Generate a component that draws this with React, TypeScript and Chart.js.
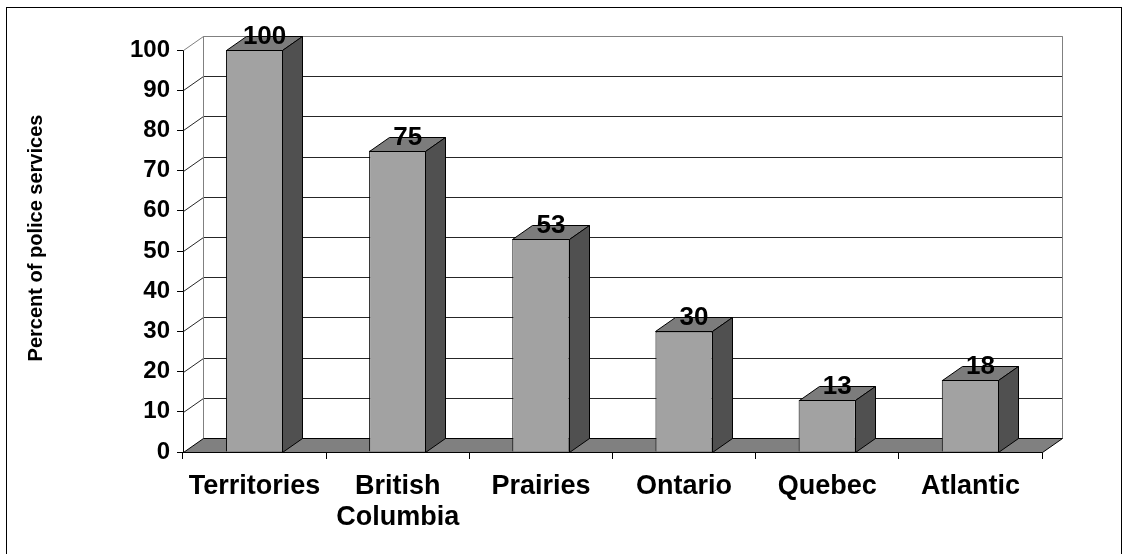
import React, { useEffect, useRef } from "react";
import { Chart, registerables } from "chart.js";

Chart.register(...registerables);

const categories: (string | string[])[] = [
  "Territories",
  ["British", "Columbia"],
  "Prairies",
  "Ontario",
  "Quebec",
  "Atlantic",
];
const percentValues: number[] = [100, 75, 53, 30, 13, 18];
const yTicks: number[] = [0, 10, 20, 30, 40, 50, 60, 70, 80, 90, 100];
const yTitle = "Percent of police services";

const FONT = "'Liberation Sans', Arial, Helvetica, sans-serif";
const DX = 20;
const DY = 14;

const threeD = {
  id: "threeD",
  beforeDraw(chart: any) {
    const ctx = chart.ctx;
    ctx.save();
    ctx.fillStyle = "#ffffff";
    ctx.fillRect(0, 0, chart.width, chart.height);
    ctx.strokeStyle = "#000000";
    ctx.lineWidth = 1;
    ctx.strokeRect(6.5, 7.5, 1115, 560);
    ctx.restore();
  },
  beforeDatasetsDraw(chart: any) {
    const ctx = chart.ctx;
    const { left, right } = chart.chartArea;
    const y = chart.scales.y;
    const L = Math.round(left) + 0.5;
    const R = Math.round(right) + 0.5;
    ctx.save();
    ctx.lineWidth = 1;
    yTicks.forEach((v) => {
      if (v === 0) return;
      const py = Math.round(y.getPixelForValue(v)) + 0.5;
      const col = v === yTicks[yTicks.length - 1] ? "#808080" : "#262626";
      ctx.strokeStyle = col;
      ctx.beginPath();
      ctx.moveTo(L, py);
      ctx.lineTo(L + DX, py - DY);
      ctx.lineTo(R + DX, py - DY);
      ctx.stroke();
    });
    const pTop = Math.round(y.getPixelForValue(100)) + 0.5;
    const pBot = Math.round(y.getPixelForValue(0)) + 0.5;
    ctx.strokeStyle = "#808080";
    ctx.beginPath();
    ctx.moveTo(L + DX, pBot - DY);
    ctx.lineTo(L + DX, pTop - DY);
    ctx.lineTo(R + DX, pTop - DY);
    ctx.lineTo(R + DX, pBot - DY);
    ctx.stroke();
    ctx.fillStyle = "#808080";
    ctx.strokeStyle = "#000000";
    ctx.beginPath();
    ctx.moveTo(L, pBot);
    ctx.lineTo(R, pBot);
    ctx.lineTo(R + DX, pBot - DY);
    ctx.lineTo(L + DX, pBot - DY);
    ctx.closePath();
    ctx.fill();
    ctx.stroke();
    ctx.restore();
  },
  afterDatasetsDraw(chart: any) {
    const ctx = chart.ctx;
    const meta = chart.getDatasetMeta(0);
    ctx.save();
    ctx.lineWidth = 1;
    ctx.strokeStyle = "#000000";
    meta.data.forEach((bar: any, i: number) => {
      const { x, y, base, width } = bar.getProps(["x", "y", "base", "width"], true);
      const x0 = Math.round(x - width / 2) + 0.5;
      const x1 = Math.round(x + width / 2) - 0.5;
      const yt = Math.round(y) + 0.5;
      const yb = Math.round(base) + 0.5;
      ctx.fillStyle = "#7c7c7c";
      ctx.beginPath();
      ctx.moveTo(x0, yt);
      ctx.lineTo(x1, yt);
      ctx.lineTo(x1 + DX, yt - DY);
      ctx.lineTo(x0 + DX, yt - DY);
      ctx.closePath();
      ctx.fill();
      ctx.stroke();
      ctx.fillStyle = "#505050";
      ctx.beginPath();
      ctx.moveTo(x1, yt);
      ctx.lineTo(x1 + DX, yt - DY);
      ctx.lineTo(x1 + DX, yb - DY);
      ctx.lineTo(x1, yb);
      ctx.closePath();
      ctx.fill();
      ctx.stroke();
      ctx.fillStyle = "#000000";
      ctx.font = `bold 26px ${FONT}`;
      ctx.textAlign = "center";
      ctx.textBaseline = "alphabetic";
      ctx.fillText(String(percentValues[i]), x + DX / 2, y - 6);
    });
    ctx.restore();
  },
  afterDraw(chart: any) {
    const ctx = chart.ctx;
    ctx.save();
    ctx.translate(36, 238);
    ctx.rotate(-Math.PI / 2);
    ctx.font = `bold 20px ${FONT}`;
    ctx.fillStyle = "#000000";
    ctx.textAlign = "center";
    ctx.textBaseline = "middle";
    ctx.fillText(yTitle, 0, 0);
    ctx.restore();
  },
};

export default function App() {
  const ref = useRef<HTMLCanvasElement | null>(null);
  useEffect(() => {
    document.body.style.margin = "0";
    const canvas = ref.current;
    if (!canvas) return;
    const chart = new Chart(canvas, {
      type: "bar",
      data: {
        labels: categories as any,
        datasets: [
          {
            data: percentValues,
            backgroundColor: "#a2a2a2",
            borderColor: "#000000",
            borderWidth: 1,
            categoryPercentage: 1,
            barPercentage: 0.4,
          },
        ],
      },
      options: {
        animation: false,
        responsive: false,
        devicePixelRatio: 1,
        layout: { padding: { left: 0, right: 81, top: 50, bottom: 0 } },
        plugins: {
          legend: { display: false },
          tooltip: { enabled: false },
        },
        scales: {
          x: {
            afterFit: (s: any) => {
              s.height = 102;
            },
            grid: {
              drawOnChartArea: false,
              drawTicks: true,
              tickLength: 7,
              color: "#000000",
              offset: true,
            },
            border: { display: true, color: "#000000" },
            ticks: {
              autoSkip: false,
              maxRotation: 0,
              minRotation: 0,
              padding: 12,
              color: "#000000",
              font: { family: FONT, size: 27, weight: "bold", lineHeight: 1.15 },
            },
          },
          y: {
            min: 0,
            max: 100,
            afterFit: (s: any) => {
              s.width = 183;
            },
            afterBuildTicks: (s: any) => {
              s.ticks = yTicks.map((v) => ({ value: v }));
            },
            grid: {
              drawOnChartArea: false,
              drawTicks: true,
              tickLength: 6,
              color: "#000000",
            },
            border: { display: true, color: "#000000" },
            ticks: {
              padding: 7,
              color: "#000000",
              font: { family: FONT, size: 24, weight: "bold" },
            },
          },
        },
      },
      plugins: [threeD],
    } as any);
    return () => chart.destroy();
  }, []);
  return (
    <div style={{ position: "absolute", left: 0, top: 0, width: 1123, height: 554 }}>
      <canvas ref={ref} width={1123} height={554} />
    </div>
  );
}
